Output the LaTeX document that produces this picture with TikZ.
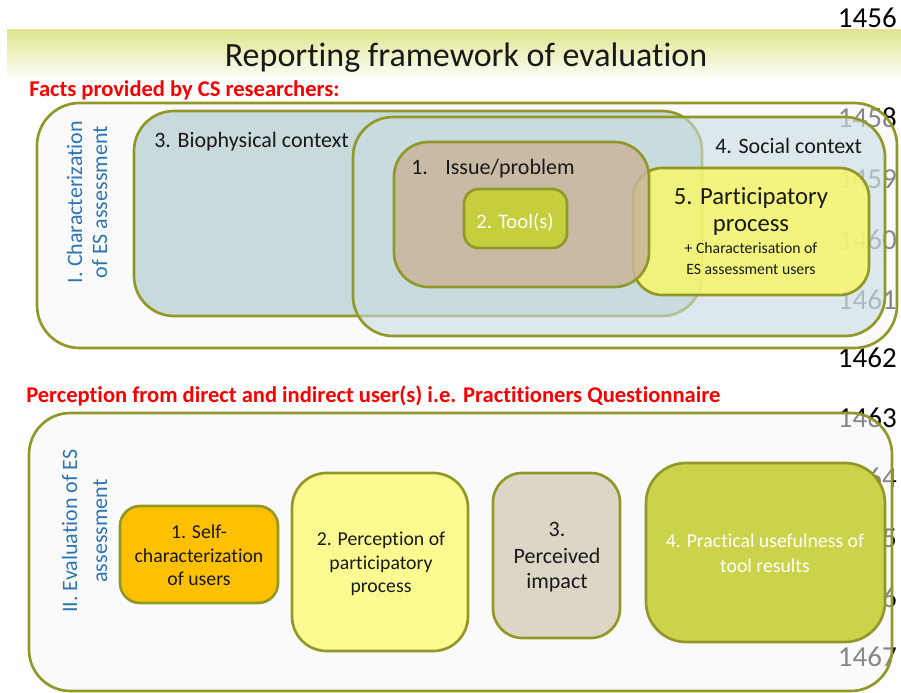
\documentclass[tikz,border=0pt]{standalone}
\usepackage{fontspec}
\setmainfont{Carlito}[Ligatures=NoCommon]

% palette
\definecolor{edge}{RGB}{146,152,40}
\definecolor{band}{RGB}{222,230,140}
\definecolor{outerfill}{RGB}{247,247,247}
\definecolor{biofill}{RGB}{200,218,219}
\definecolor{socialfill}{RGB}{200,221,225}
\definecolor{partfill}{RGB}{247,247,106}
\definecolor{issuefill}{RGB}{201,181,155}
\definecolor{toolfill}{RGB}{198,206,62}
\definecolor{selffill}{RGB}{255,192,0}
\definecolor{percfill}{RGB}{251,250,145}
\definecolor{impactfill}{RGB}{221,214,198}
\definecolor{usefill}{RGB}{203,211,74}
\definecolor{headblue}{RGB}{46,117,182}
\definecolor{headred}{RGB}{250,0,0}
\definecolor{ink}{RGB}{25,25,25}

\newcommand{\fs}[1]{\fontsize{#1}{1.2\dimexpr#1pt\relax}\selectfont}

\begin{document}
\begin{tikzpicture}[x=0.75pt,y=-0.75pt,
  frame/.style={draw=edge, line width=2pt},
  lnum/.style={anchor=base east, inner sep=0pt, text=black, font=\fs{21.75}},
  lbl/.style={anchor=base, inner sep=0pt, text=ink},
  lblw/.style={anchor=base west, inner sep=0pt, text=ink},
  side/.style={anchor=base, inner sep=0pt, rotate=90, text=headblue, font=\fs{16.5}},
  redhead/.style={anchor=base west, inner sep=0pt, text=headred, font=\bfseries\fs{16.9}}]

\useasboundingbox (0,0) rectangle (901,693);
\fill[white] (0,0) rectangle (901,693);

% line numbers of the page, lying under the figure
\node[lnum] (n1456) at (897,27)  {1456};
\node[lnum] (n1458) at (897,127) {1458};
\node[lnum] (n1459) at (897,188) {1459};
\node[lnum] (n1460) at (897,249) {1460};
\node[lnum] (n1461) at (897,309) {1461};
\node[lnum] (n1462) at (897,367) {1462};
\node[lnum] (n1463) at (897,427) {1463};
\node[lnum] (n1464) at (897,487) {1464};
\node[lnum] (n1465) at (897,547) {1465};
\node[lnum] (n1466) at (897,607) {1466};
\node[lnum] (n1467) at (897,666) {1467};

% title band
\shade[top color=band, bottom color=white] (7,29) rectangle (901,81);
\node[anchor=base, inner sep=0pt, text=ink, font=\fs{25.5}] (title) at (466,66)
  {Reporting framework of evaluation};

\node[redhead] (facts) at (29,96) {Facts provided by CS researchers:};
\node[redhead] (percline) at (26,402)
  {Perception from direct and indirect user(s) i.e. Practitioners Questionnaire};

% ---- I. characterization block
\path[frame, fill=outerfill, fill opacity=0.55, rounded corners=32pt]
  (37,103) rectangle (897,348);
\path[frame, fill=biofill, rounded corners=30pt] (134,111) rectangle (702,316);
\path[frame, fill=socialfill, fill opacity=0.6, rounded corners=30pt]
  (353,117) rectangle (885,336);
\path[frame, fill=partfill, fill opacity=0.85, rounded corners=22pt]
  (633,168) rectangle (869,295);
\path[frame, fill=issuefill, fill opacity=0.85, rounded corners=26pt]
  (394,142) rectangle (649,287);
\path[frame, fill=toolfill, rounded corners=11pt] (464,189) rectangle (567,248);

\node[side] (sideIa) at (82,202)  {I. Characterization};
\node[side] (sideIb) at (107,202) {of ES assessment};

\node[lblw, font=\fs{16.5}] (bio) at (154,147) {3. Biophysical context};
\node[lblw, font=\fs{16.5}] (social) at (715,153) {4. Social context};
\node[lblw, font=\fs{16.5}] (issue) at (411,174) {1.\hspace{13pt}Issue/problem};
\node[lbl, text=white, font=\fs{15.5}] (tool) at (515,228) {2. Tool(s)};
\node[lbl, font=\fs{18.5}] (partA) at (751,204) {5. Participatory};
\node[lbl, font=\fs{18.5}] (partB) at (751,231) {process};
\node[lbl, font=\fs{11.8}] (partC) at (751,253) {+ Characterisation of};
\node[lbl, font=\fs{11.8}] (partD) at (751,274) {ES assessment users};

% ---- II. evaluation block
\path[frame, fill=outerfill, fill opacity=0.55, rounded corners=31pt]
  (29,413) rectangle (892,691);
\path[frame, fill=selffill, rounded corners=15pt] (120,506) rectangle (278,603);
\path[frame, fill=percfill, rounded corners=26pt] (292,473) rectangle (468,651);
\path[frame, fill=impactfill, rounded corners=22pt] (493,473) rectangle (620,638);
\path[frame, fill=usefill, rounded corners=30pt] (646,463) rectangle (885,642);

\node[side] (sideIIa) at (77,531)  {II. Evaluation of ES};
\node[side] (sideIIb) at (107,531) {assessment};

\node[lbl, font=\fs{14.8}] (selfA) at (199,538) {1. Self-};
\node[lbl, font=\fs{14.8}] (selfB) at (199,562) {characterization};
\node[lbl, font=\fs{14.8}] (selfC) at (199,585) {of users};

\node[lbl, font=\fs{14.8}] (percA) at (381,545) {2. Perception of};
\node[lbl, font=\fs{14.8}] (percB) at (381,569) {participatory};
\node[lbl, font=\fs{14.8}] (percC) at (381,592) {process};

\node[lbl, font=\fs{16.5}] (impA) at (557,536) {3.};
\node[lbl, font=\fs{16.5}] (impB) at (557,563) {Perceived};
\node[lbl, font=\fs{16.5}] (impC) at (557,588) {impact};

\node[lbl, text=white, font=\fs{14.8}] (useA) at (765,547) {4. Practical usefulness of};
\node[lbl, text=white, font=\fs{14.8}] (useB) at (765,572) {tool results};

\end{tikzpicture}
\end{document}
